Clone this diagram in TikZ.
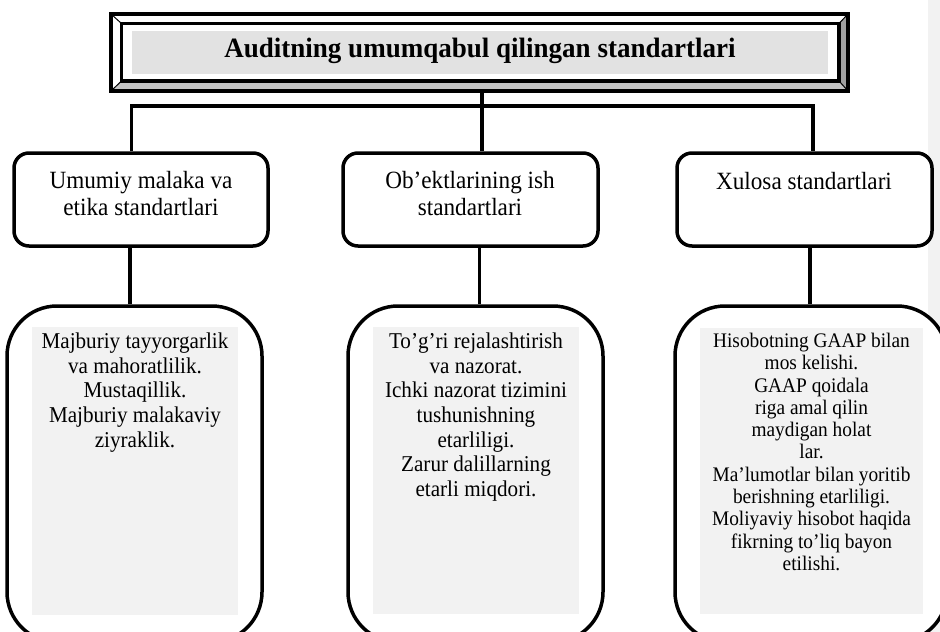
\documentclass[tikz,border=0pt]{standalone}
\usepackage{fontspec}
\setmainfont{Liberation Serif}[FakeStretch=0.935]
\newfontfamily\titlefont{Liberation Serif}[FakeStretch=0.965]
\definecolor{hdrgray}{HTML}{E2E2E2}
\definecolor{bevlight}{HTML}{C4C4C4}
\definecolor{bevdark}{HTML}{A0A0A0}
\definecolor{fillgray}{HTML}{F2F2F2}
\begin{document}
\begin{tikzpicture}[x=1pt,y=-1pt,
  catbox/.style={draw,line width=3.5pt,rounded corners=15pt,fill=white,minimum width=254pt,minimum height=93pt,inner sep=0pt},
  itembox/.style={draw,line width=3.5pt,rounded corners=50pt,fill=white,minimum height=336pt,inner sep=0pt},
  panel/.style={fill=fillgray,draw=none,inner sep=0pt},
  cattext/.style={anchor=north,align=center,inner sep=0pt,font=\fontsize{24.8}{26.5}\selectfont},
  itemtext/.style={anchor=north,align=center,inner sep=0pt,font=\fontsize{22.6}{24.7}\selectfont},
  smalltext/.style={anchor=north,align=center,inner sep=0pt,font=\fontsize{20.7}{22.3}\selectfont},
  conn/.style={line width=3.5pt}
]
\clip (0,0) rectangle (940,632);
\fill[fillgray] (928,0) rectangle (940,632);

% header bevel frame
\fill[white] (111,14) -- (848,14) -- (839,23.5) -- (121.5,23.5) -- cycle;
\fill[white] (111,14) -- (121.5,23.5) -- (121.5,81) -- (111,91) -- cycle;
\fill[bevlight] (111,91) -- (121.5,81) -- (839,81) -- (848,91) -- cycle;
\fill[bevdark] (848,14) -- (848,91) -- (839,81) -- (839,23.5) -- cycle;
\fill[hdrgray] (132,30.7) rectangle (828,74);
\draw[line width=1pt] (111,14) -- (121.5,23.5) (848,14) -- (839,23.5)
                      (111,91) -- (121.5,81) (848,91) -- (839,81);
\draw[line width=3.5pt] (121.5,23.5) rectangle (839,81);
\node[draw,line width=4pt,minimum width=737pt,minimum height=77pt,inner sep=0pt] (hdr) at (479.5,52.5) {};
\node[font=\titlefont\bfseries\fontsize{28}{31}\selectfont,anchor=base,inner sep=0pt] (title) at (480,57.3) {Auditning umumqabul qilingan standartlari};

% category boxes
\node[catbox] (h1) at (141,199.5) {};
\node[catbox,minimum width=255pt] (h2) at (470.5,199.5) {};
\node[catbox,minimum width=255pt] (h3) at (804.5,199.5) {};
\node[cattext] (t1) at (141,171.1) {Umumiy malaka va\\etika standartlari};
\node[cattext] (t2) at (470,171.1) {Ob’ektlarining ish\\standartlari};
\node[cattext] (t3) at (804,171.6) {Xulosa standartlari};

% item boxes
\node[itembox,minimum width=255pt] (b1) at (134.5,474) {};
\node[itembox,minimum width=255pt] (b2) at (475.5,474) {};
\node[itembox,minimum width=272pt] (b3) at (811,474) {};
\node[panel,minimum width=206pt,minimum height=288pt] (g1) at (135,471) {};
\node[panel,minimum width=206pt,minimum height=287pt] (g2) at (476,470.5) {};
\node[panel,minimum width=223pt,minimum height=286pt] (g3) at (811.5,471) {};
\node[itemtext] (i1) at (135,332.6) {Majburiy tayyorgarlik\\va mahoratlilik.\\Mustaqillik.\\Majburiy malakaviy\\ziyraklik.};
\node[itemtext] (i2) at (476,332.6) {To’g’ri rejalashtirish\\va nazorat.\\Ichki nazorat tizimini\\tushunishning\\etarliligi.\\Zarur dalillarning\\etarli miqdori.};
\node[smalltext] (i3) at (811.5,332.9) {Hisobotning GAAP bilan\\mos kelishi.\\GAAP qoidala\\riga amal qilin\\maydigan holat\\lar.\\Ma’lumotlar bilan yoritib\\berishning etarliligi.\\Moliyaviy hisobot haqida\\fikrning to’liq bayon\\etilishi.};

% connectors
\coordinate (j1) at (131.7,106);
\coordinate (j2) at (482,106);
\coordinate (j3) at (813,106);
\coordinate (k1) at (130,276);
\coordinate (k2) at (479.5,276);
\coordinate (k3) at (810,276);
\draw[conn] (hdr.south -| j2) -- (h2.north -| j2);
\draw[conn] (h1.north -| j1) -- (j1) -- (j3) -- (h3.north -| j3);
\draw[conn] (h1.south -| k1) -- (b1.north -| k1);
\draw[conn] (h2.south -| k2) -- (b2.north -| k2);
\draw[conn] (h3.south -| k3) -- (b3.north -| k3);
\end{tikzpicture}
\end{document}
